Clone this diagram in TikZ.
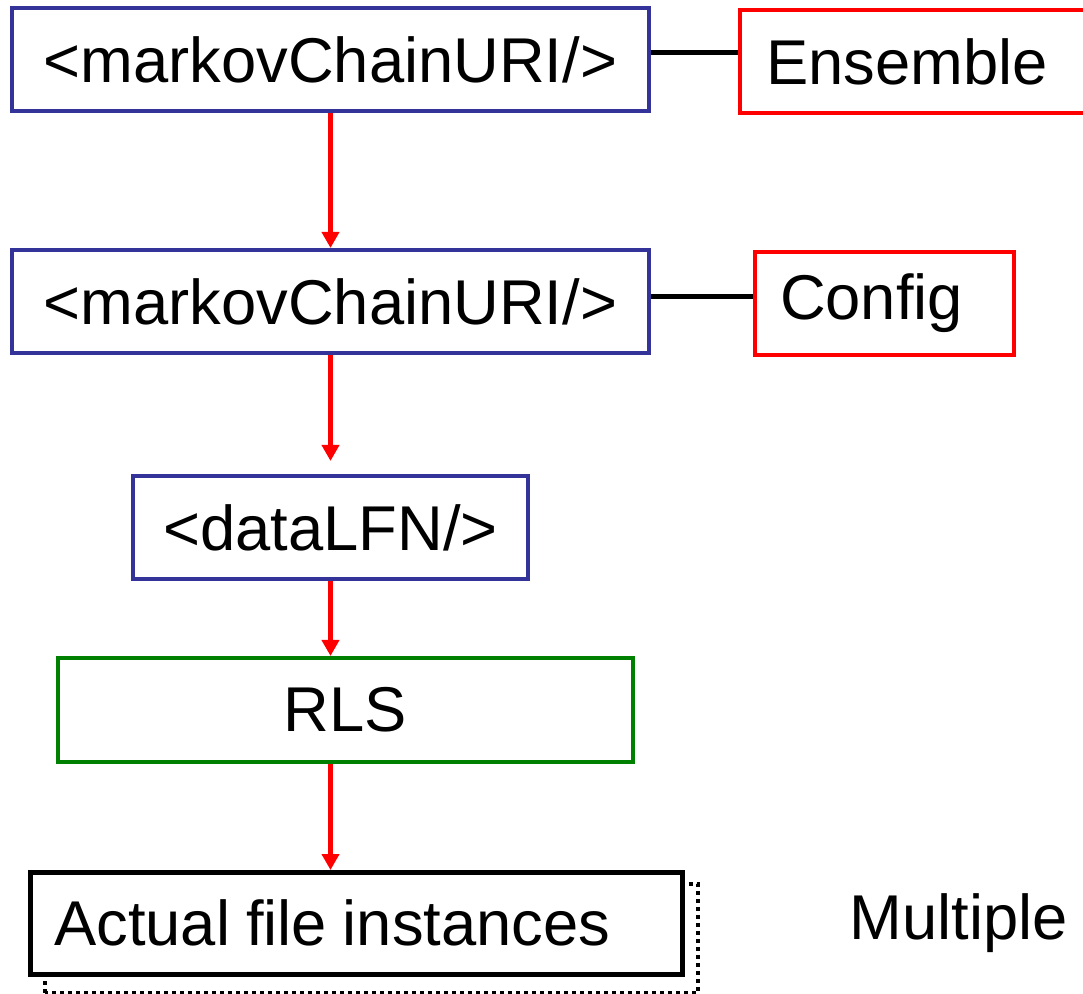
\documentclass[tikz,border=0pt]{standalone}
\usepackage{fontspec}
\setmainfont{Liberation Sans}
\definecolor{XMLblue}{HTML}{333399}
\definecolor{CATred}{HTML}{FF0000}
\definecolor{RLSgreen}{HTML}{008000}
\usetikzlibrary{arrows.meta, positioning, calc, backgrounds}

\begin{document}
\begin{tikzpicture}[x=0.01cm, y=-0.01cm,
      every node/.style={font=\fontsize{18}{22}\selectfont},
      uribox/.style={draw=XMLblue, line width=1.15pt, fill=white,
         minimum height=1.03cm, inner sep=0pt},
      catbox/.style={draw=CATred, line width=1.15pt, minimum height=1.03cm,
         inner xsep=0.26cm, inner ysep=0pt, align=left, anchor=north west},
      link/.style={-{Triangle[width=0.17cm, length=0.16cm]}, CATred, line width=1.15pt},
      tie/.style={black, line width=1.15pt}]
      \useasboundingbox (0,0) rectangle (1083,993);
      % URI chain (blue)
      \node[uribox, minimum width=6.37cm] (uri1) at (330.5,59.5) {<markovChainURI/>};
      \node[uribox, minimum width=6.37cm] (uri2) at (330.5,301.5) {<markovChainURI/>};
      \node[uribox, minimum width=3.95cm] (data) at (330.5,527.5) {<dataLFN/>};
      % catalogue boxes (red)
      \node[catbox, text width=3.10cm] (ens) at (738,8) {Ensemble};
      \node[catbox, text width=2.09cm, inner xsep=0.25cm] (cfg) at (753,250) {Config};
      % RLS (green)
      \node[draw=RLSgreen, line width=1.15pt, minimum width=5.75cm,
         minimum height=1.04cm] (rls) at (345.5,710) {RLS};
      % file instances, with dotted copy behind
      \node[draw=black, line width=1.3pt, fill=white, minimum width=6.52cm,
         minimum height=1.02cm, inner xsep=0.24cm, inner ysep=0pt,
         text width=6.04cm, align=left, anchor=north west] (act) at (28,870)
         {\spaceskip=0.25em\relax Actual file instances};
      \begin{scope}[on background layer]
         \draw[line width=0.9pt, dash pattern=on 0.04cm off 0.04cm]
            ($(act.south west)+(17,16)$) rectangle ($(act.north east)+(13,14)$);
      \end{scope}
      \node (multi) at (959,923) {Multiple};
      % links
      \draw[tie] ([yshift=0.07cm]uri1.east) -- ([yshift=0.07cm]uri1.east -| ens.west);
      \draw[tie] ([yshift=0.05cm]uri2.east) -- ([yshift=0.05cm]uri2.east -| cfg.west);
      \draw[link] (uri1.south) -- (uri2.north);
      \draw[link, shorten >=0.13cm] (uri2.south) -- (data.north);
      \draw[link] (data.south) -- (data.south |- rls.north);
      \draw[link] (data.south |- rls.south) -- (data.south |- act.north);
   \end{tikzpicture}
\end{document}
